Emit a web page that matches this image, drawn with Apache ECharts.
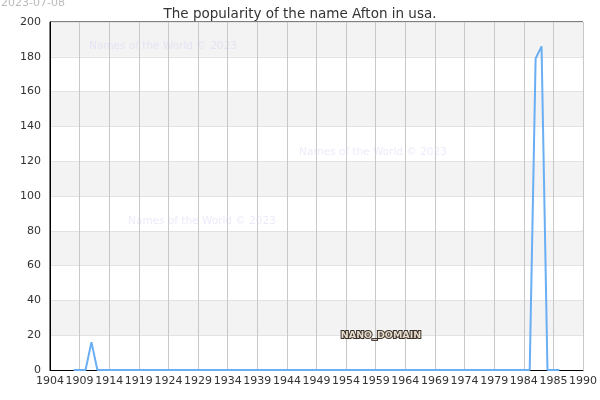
<!DOCTYPE html>
<html>
<head>
<meta charset="utf-8">
<script src="https://cdn.jsdelivr.net/npm/echarts@6/dist/echarts.min.js"></script>
<style>html,body{margin:0;padding:0;background:#fff}#c{width:600px;height:400px}</style>
</head>
<body>
<div id="c"></div>
<script>
var titleText = 'The popularity of the name Afton in usa.';
var dateText = '2023-07-08';
var watermark = 'Names of the World © 2023';
var domainText = 'NANO_DOMAIN';

var years = [
  '1904','1905','1906','1907','1908','1909','1910','1911','1912','1913',
  '1914','1915','1916','1917','1918','1919','1920','1921','1922','1923',
  '1924','1925','1926','1927','1928','1929','1930','1931','1932','1933',
  '1934','1935','1936','1937','1938','1939','1940','1941','1942','1943',
  '1944','1945','1946','1947','1948','1949','1950','1951','1952','1953',
  '1954','1955','1956','1957','1958','1959','1960','1961','1962','1963',
  '1964','1965','1966','1967','1968','1969','1970','1971','1972','1973',
  '1974','1975','1976','1977','1978','1979','1980','1981','1982','1983',
  '1984','1985','1985','1985','1985','1985','1986','1987','1988','1989',
  '1990'
];

var popularity = [
  null,null,null,null,0,0,0,16,0,0,
  0,0,0,0,0,0,0,0,0,0,
  0,0,0,0,0,0,0,0,0,0,
  0,0,0,0,0,0,0,0,0,0,
  0,0,0,0,0,0,0,0,0,0,
  0,0,0,0,0,0,0,0,0,0,
  0,0,0,0,0,0,0,0,0,0,
  0,0,0,0,0,0,0,0,0,0,
  0,0,179,186,0,0,0,null,null,null,
  null
];

var yTicks = { min: 0, max: 200, interval: 20 };

var chart = echarts.init(document.getElementById('c'), null, { renderer: 'canvas' });
var font = 'DejaVu Sans';
chart.setOption({
  animation: false,
  textStyle: { fontFamily: font },
  title: {
    text: titleText,
    left: 'center',
    top: 2,
    textStyle: { fontFamily: font, fontSize: 13.5, fontWeight: 'normal', color: '#333' }
  },
  grid: {
    left: 50, right: 14, top: 22, bottom: 30,
    show: true, borderColor: '#000', borderWidth: 1, backgroundColor: 'transparent'
  },
  xAxis: {
    type: 'category',
    data: years,
    boundaryGap: false,
    axisLine: { show: true, lineStyle: { color: '#000', width: 1 } },
    axisTick: { show: false },
    axisLabel: { interval: 4, color: '#333', fontSize: 11, fontFamily: font, margin: 6, showMaxLabel: true },
    splitLine: { show: true, interval: 4, lineStyle: { color: '#c8c8c8', width: 1 } }
  },
  yAxis: {
    type: 'value',
    min: yTicks.min, max: yTicks.max, interval: yTicks.interval,
    axisLine: { show: true, lineStyle: { color: '#000', width: 1 } },
    axisTick: { show: false },
    axisLabel: { color: '#333', fontSize: 11, fontFamily: font, margin: 9 },
    splitLine: { show: true, lineStyle: { color: '#e2e2e2', width: 1 } },
    splitArea: { show: true, areaStyle: { color: ['#ffffff', '#f3f3f3'] } }
  },
  series: [{
    type: 'line',
    data: popularity,
    showSymbol: false,
    symbol: 'none',
    connectNulls: false,
    lineStyle: { color: '#6aaef3', width: 2 },
    z: 3
  }],
  graphic: [
    { type: 'text', left: 1, top: -2, style: { text: dateText, fill: '#bbbbbb', font: '11px "DejaVu Sans"' } },
    { type: 'text', x: 163, y: 46, style: { text: watermark, fill: 'rgba(205,205,245,0.4)', font: '10.5px "DejaVu Sans"', align: 'center', verticalAlign: 'middle' }, z: 10 },
    { type: 'text', x: 373, y: 152, style: { text: watermark, fill: 'rgba(205,205,245,0.4)', font: '10.5px "DejaVu Sans"', align: 'center', verticalAlign: 'middle' }, z: 10 },
    { type: 'text', x: 202, y: 221, style: { text: watermark, fill: 'rgba(205,205,245,0.4)', font: '10.5px "DejaVu Sans"', align: 'center', verticalAlign: 'middle' }, z: 10 },
    { type: 'text', x: 381, y: 336, style: { text: domainText, fill: '#e6dccb', stroke: '#3a2e28', lineWidth: 2, font: 'bold 9.5px "DejaVu Sans"', align: 'center', verticalAlign: 'middle' }, z: 10 }
  ]
});
</script>
</body>
</html>
